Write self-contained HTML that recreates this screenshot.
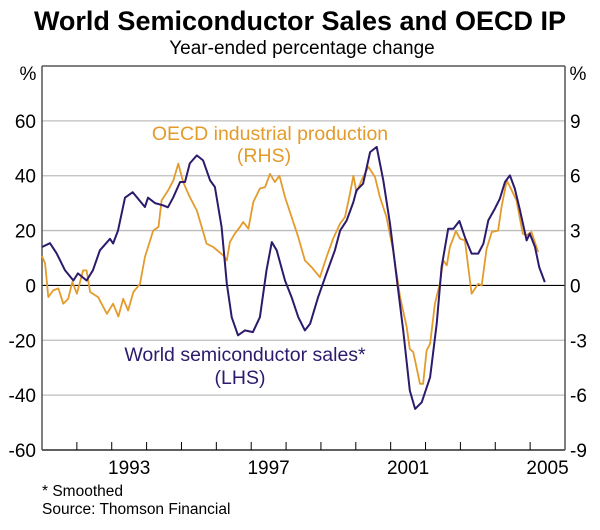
<!DOCTYPE html>
<html><head><meta charset="utf-8"><style>
body{margin:0;background:#fff;}
svg text{font-family:"Liberation Sans",sans-serif;}
</style></head><body>
<svg id="chart" width="600" height="525" viewBox="0 0 600 525">
<text x="300" y="30" text-anchor="middle" font-size="27" font-weight="bold">World Semiconductor Sales and OECD IP</text>
<text x="302" y="54" text-anchor="middle" font-size="19">Year-ended percentage change</text>
<text x="28" y="80" text-anchor="middle" font-size="19">%</text>
<text x="578" y="80" text-anchor="middle" font-size="19">%</text>
<g id="grid"></g><g id="axes"></g><g id="series"></g>
<text x="270" y="140" text-anchor="middle" font-size="19.5" fill="#e39b2c">OECD industrial production</text>
<text x="264" y="162" text-anchor="middle" font-size="19.5" fill="#e39b2c">(RHS)</text>
<text x="245" y="361" text-anchor="middle" font-size="19.5" fill="#2d1a6c">World semiconductor sales*</text>
<text x="240" y="384" text-anchor="middle" font-size="19.5" fill="#2d1a6c">(LHS)</text>
<text x="42" y="496" font-size="15.5">*  Smoothed</text>
<text x="42" y="514" font-size="15.5">Source: Thomson Financial</text>
</svg>
<script>
const leftTicks=[60,40,20,0,-20,-40,-60];
const rightTicks=[9,6,3,0,-3,-6,-9];
const yearLabels=[1993,1997,2001,2005];
const semisDates=[1991.0,1991.23,1991.42,1991.66,1991.9,1992.03,1992.28,1992.46,1992.66,1992.95,1993.04,1993.18,1993.38,1993.6,1993.75,1993.95,1994.04,1994.24,1994.47,1994.61,1994.76,1994.96,1995.1,1995.24,1995.44,1995.62,1995.82,1995.96,1996.15,1996.3,1996.44,1996.62,1996.82,1997.05,1997.25,1997.44,1997.59,1997.73,1997.97,1998.16,1998.35,1998.54,1998.69,1998.92,1999.16,1999.4,1999.55,1999.74,1999.93,2000.02,2000.21,2000.41,2000.6,2000.79,2000.98,2001.17,2001.36,2001.55,2001.7,2001.89,2002.13,2002.32,2002.46,2002.65,2002.8,2002.97,2003.13,2003.32,2003.51,2003.66,2003.8,2003.99,2004.13,2004.28,2004.42,2004.56,2004.71,2004.9,2004.99,2005.14,2005.26,2005.42];
const semisValues=[14,15.4,11.7,5.5,1.8,4.4,1.8,5.5,12.8,17,15.3,20,32,34,31.7,28.6,32,30,29.2,28.5,32,37.7,37.7,44.5,47.4,45.6,38.3,35.9,21.3,0.7,-11.6,-18.2,-16.4,-17,-11.6,5.5,15.8,12.8,1.8,-4.3,-11.6,-16.4,-14,-4.3,4.4,12.8,20,23.7,30.4,34.7,37.1,48.6,50.5,38.3,22.5,3,-16.4,-38.3,-45,-42.6,-33.5,-14,6.7,20.7,20.7,23.5,17.6,11.6,11.6,15.2,23.7,28,31.6,37.7,40.1,35.3,27.4,16.4,18.9,14,6.7,1.2];
const oecdDates=[1991.0,1991.09,1991.18,1991.32,1991.47,1991.61,1991.75,1991.87,1992.0,1992.18,1992.28,1992.38,1992.61,1992.86,1993.04,1993.19,1993.33,1993.47,1993.62,1993.81,1993.95,1994.19,1994.34,1994.43,1994.62,1994.77,1994.91,1995.05,1995.24,1995.44,1995.58,1995.72,1995.91,1996.2,1996.3,1996.39,1996.53,1996.68,1996.77,1996.92,1997.06,1997.25,1997.4,1997.54,1997.68,1997.81,1997.97,1998.16,1998.35,1998.54,1998.73,1998.97,1999.16,1999.35,1999.55,1999.69,1999.83,1999.93,2000.02,2000.21,2000.36,2000.55,2000.69,2000.88,2001.07,2001.27,2001.46,2001.55,2001.65,2001.84,2001.93,2002.03,2002.13,2002.27,2002.41,2002.51,2002.61,2002.7,2002.87,2002.99,2003.13,2003.32,2003.51,2003.61,2003.75,2003.9,2004.08,2004.18,2004.33,2004.47,2004.61,2004.79,2004.9,2005.04,2005.23];
const oecdValues=[1.6,1.2,-0.64,-0.27,-0.16,-1.0,-0.73,0.18,-0.45,0.82,0.82,-0.36,-0.64,-1.55,-1.0,-1.7,-0.73,-1.37,-0.36,0.09,1.55,3.0,3.2,4.65,5.2,5.75,6.66,5.65,4.83,4.1,3.2,2.28,2.1,1.64,1.37,2.37,2.83,3.2,3.47,3.1,4.56,5.3,5.38,6.1,5.65,6.0,4.83,3.74,2.64,1.37,1.0,0.45,1.55,2.55,3.38,3.74,5.0,6.0,5.1,5.93,6.48,5.93,4.83,3.74,1.92,-0.64,-2.28,-3.47,-3.65,-5.38,-5.38,-3.56,-3.19,-1.0,0.09,1.37,1.1,2.1,2.97,2.55,2.46,-0.45,0.09,0,2.0,2.92,3.0,4.28,5.75,5.2,4.65,2.83,2.74,2.92,1.82];

const PL=42,PR=565,PT=66,PB=450,SVGNS='http://www.w3.org/2000/svg';
const xS=yr=>PL+(yr-1991)*(PR-PL)/15;
const yL=v=>PT+(80-v)*(PB-PT)/140;
const yR=v=>PT+(12-v)*(PB-PT)/21;
function mk(tag,attrs,parent){const e=document.createElementNS(SVGNS,tag);for(const k in attrs)e.setAttribute(k,attrs[k]);parent.appendChild(e);return e;}
const gridG=document.getElementById('grid'),axesG=document.getElementById('axes'),seriesG=document.getElementById('series');
leftTicks.forEach((v,i)=>{
  if(v!==0&&v!==-60){const g=mk('line',{x1:PL,x2:PR,y1:yL(v),y2:yL(v),stroke:'#bdbdbd','stroke-width':1.3},gridG);
  
  }
  const t=mk('text',{x:36,y:yL(v)+7,'text-anchor':'end','font-size':19},axesG);t.textContent=v;
  
  
  const t2=mk('text',{x:570,y:yL(v)+7,'font-size':19},axesG);t2.textContent=rightTicks[i];
  
  
});
const zl=mk('line',{x1:PL,x2:PR,y1:yL(0),y2:yL(0),stroke:'#000','stroke-width':1.2},axesG);


const topBorder=mk('line',{x1:PL,x2:PR,y1:PT,y2:PT,stroke:'#000','stroke-width':1},axesG);


const bx=mk('line',{x1:PL,x2:PR,y1:PB,y2:PB,stroke:'#000','stroke-width':1.3},axesG);


const la=mk('line',{x1:PL,x2:PL,y1:PT,y2:PB,stroke:'#555','stroke-width':1.5},axesG);


const ra=mk('line',{x1:PR,x2:PR,y1:PT,y2:PB,stroke:'#555','stroke-width':1.5},axesG);


for(let yr=1992;yr<2006;yr++){const tk=mk('line',{x1:xS(yr),x2:xS(yr),y1:PB,y2:PB-8,stroke:'#000','stroke-width':1},axesG);
  
  }
yearLabels.forEach(yr=>{const t=mk('text',{x:xS(yr+0.5),y:PB+24,'text-anchor':'middle','font-size':19},axesG);t.textContent=yr;
  
  });
const oPts=oecdDates.map((d,i)=>xS(d).toFixed(1)+','+yR(oecdValues[i]).toFixed(1)).join(' ');
const oLine=mk('polyline',{points:oPts,fill:'none',stroke:'#e39b2c','stroke-width':1.8,'stroke-linejoin':'round'},seriesG);


const sPts=semisDates.map((d,i)=>xS(d).toFixed(1)+','+yL(semisValues[i]).toFixed(1)).join(' ');
const sLine=mk('polyline',{points:sPts,fill:'none',stroke:'#2d1a6c','stroke-width':2,'stroke-linejoin':'round'},seriesG);


</script>
</body></html>
